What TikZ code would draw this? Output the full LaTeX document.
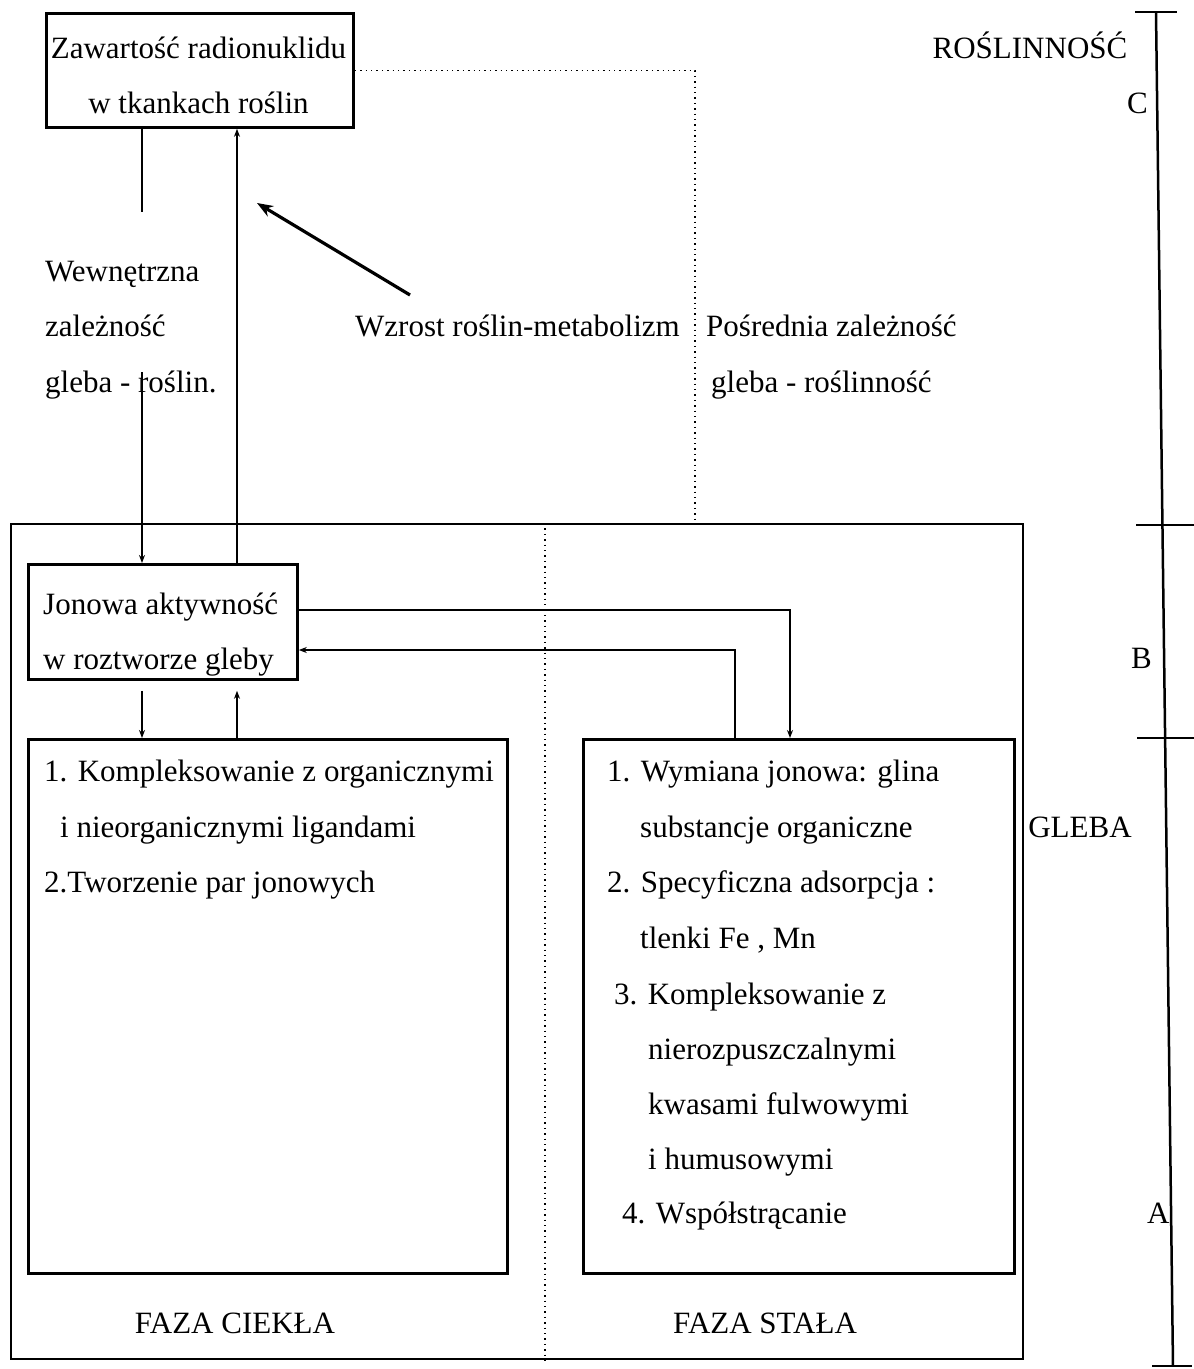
\documentclass[tikz,border=0pt]{standalone}
\usepackage{fontspec}
\setmainfont{Liberation Serif}
\usetikzlibrary{arrows.meta}
\begin{document}
\begin{tikzpicture}[x=1pt,y=-1pt,
  every node/.style={font=\fontsize{31}{55}\selectfont},
  txt/.style={anchor=base west,inner sep=0pt},
  ctxt/.style={anchor=base,inner sep=0pt},
  box/.style={draw,line width=2.8pt,inner sep=0pt,anchor=north west},
  conn/.style={line width=1.9pt},
  tip/.style={-{Stealth[length=8pt,width=6pt]}},
  dots/.style={line width=1.4pt,dash pattern=on 1.4pt off 4pt},
  scalebar/.style={line width=2.5pt},
]
\useasboundingbox (0,0) rectangle (1194,1369);

% boxes
\node[box,minimum width=307pt,minimum height=114pt] (plant) at (45,12) {};
\node[box,line width=2.2pt,minimum width=1012pt,minimum height=835pt] (soil) at (10,523) {};
\node[box,minimum width=269pt,minimum height=115pt] (jon) at (27,563) {};
\node[box,minimum width=479pt,minimum height=534pt] (lbox) at (27,738) {};
\node[box,minimum width=431pt,minimum height=534pt] (rbox) at (582,738) {};

% helper coordinates
\coordinate (xa) at (142,0);
\coordinate (xb) at (237,0);
\coordinate (xc) at (735,0);
\coordinate (xd) at (790,0);
\coordinate (xe) at (695,0);
\coordinate (xm) at (545,0);
\coordinate (ya) at (0,610);
\coordinate (yb) at (0,650);
\coordinate (wa) at (142,212);
\coordinate (wb) at (142,372);
\coordinate (dg) at (410,295);
\coordinate (dh) at (257,203);

% texts
\node[ctxt] (p1) at (198.5,58) {Zawartość radionuklidu};
\node[ctxt] (p2) at (198.5,113) {w tkankach roślin};
\node[txt] (w1) at (45,281) {Wewnętrzna};
\node[txt] (w2) at (45,336) {zależność};
\node[txt] (w3) at (45,392) {gleba - roślin.};
\node[txt] (wz) at (355,336) {Wzrost roślin-metabolizm};
\node[txt] (ps1) at (706,336) {Pośrednia zależność};
\node[txt] (ps2) at (711,392) {gleba - roślinność};
\node[txt] (j1) at (43,614) {Jonowa aktywność};
\node[txt] (j2) at (43,669) {w roztworze gleby};
\node[txt] (l1) at (44,781) {1. Kompleksowanie z organicznymi};
\node[txt] (l2) at (60,837) {i nieorganicznymi ligandami};
\node[txt] (l3) at (44,892) {2.Tworzenie par jonowych};
\node[txt] (r1) at (607,781) {1. Wymiana jonowa: glina};
\node[txt] (r2) at (640,837) {substancje organiczne};
\node[txt] (r3) at (607,892) {2. Specyficzna adsorpcja :};
\node[txt] (r4) at (640,948) {tlenki Fe , Mn};
\node[txt] (r5) at (614,1004) {3. Kompleksowanie z};
\node[txt] (r6) at (648,1059) {nierozpuszczalnymi};
\node[txt] (r7) at (648,1114) {kwasami fulwowymi};
\node[txt] (r8) at (648,1169) {i humusowymi};
\node[txt] (r9) at (622,1223) {4. Współstrącanie};
\node[ctxt] (fc) at (235,1333) {FAZA CIEKŁA};
\node[ctxt] (fs) at (765,1333) {FAZA STAŁA};
\node[ctxt] (ro) at (1030,58) {ROŚLINNOŚĆ};
\node[txt] (lc) at (1127,113) {C};
\node[txt] (lb) at (1131,668) {B};
\node[ctxt] (gl) at (1080,837) {GLEBA};
\node[txt] (la) at (1147,1223) {A};

% connectors
\draw[conn] (plant.south -| xa) -- (wa);
\draw[conn,tip] (wb) -- (jon.north -| xa);
\draw[conn,tip] (jon.north -| xb) -- (plant.south -| xb);
\draw[conn,tip,shorten <=10pt] (jon.south -| xa) -- (lbox.north -| xa);
\draw[conn,tip,shorten >=10pt] (lbox.north -| xb) -- (jon.south -| xb);
\draw[conn,tip] (jon.east |- ya) -- (xd |- ya) -- (rbox.north -| xd);
\draw[conn,tip] (rbox.north -| xc) -- (xc |- yb) -- (jon.east |- yb);
\draw[line width=3.2pt,-{Stealth[length=16pt,width=12pt]}] (dg) -- (dh);

% dotted links
\draw[dots] (plant.east) -- (xe |- plant.east) -- (soil.north -| xe);
\draw[dots] (soil.north -| xm) -- (soil.south -| xm);

% scale bar
\draw[scalebar] (1156,12) -- (1173,1366);
\draw[scalebar] (1135,12) -- (1177,12);
\draw[scalebar] (1136,525) -- (1194,525);
\draw[scalebar] (1137,738) -- (1194,738);
\draw[scalebar] (1152,1366) -- (1192,1366);
\end{tikzpicture}
\end{document}
